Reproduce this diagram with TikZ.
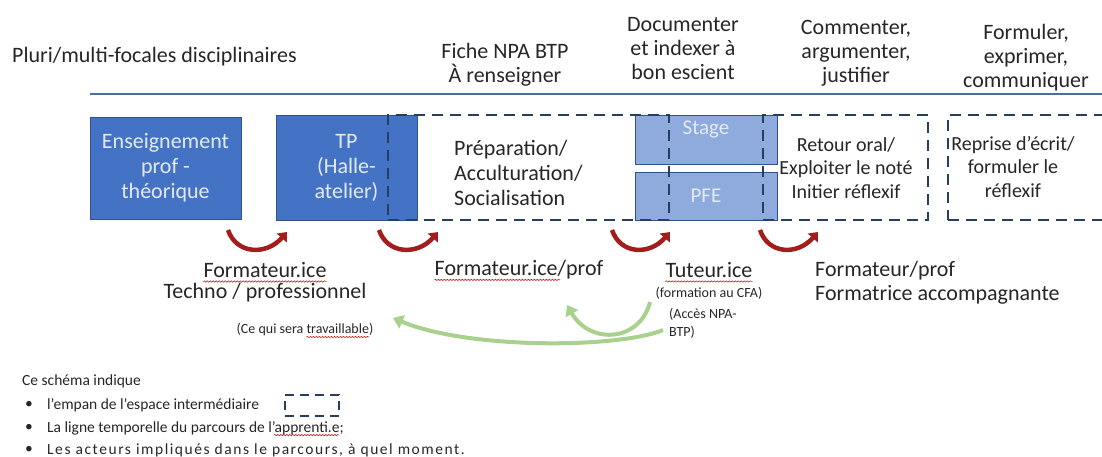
\documentclass[tikz,border=0pt]{standalone}
\usepackage{fontspec}
\setmainfont{Carlito}
\usetikzlibrary{arrows.meta}
\usetikzlibrary{decorations.pathmorphing}

\definecolor{boxblue}{HTML}{4472C4}
\definecolor{boxedge}{HTML}{2F528F}
\definecolor{boxtext}{HTML}{E3EAF6}
\definecolor{stageblue}{HTML}{8FAADC}
\definecolor{spanline}{HTML}{263E62}
\definecolor{lineblue}{HTML}{4A6FA5}
\definecolor{turnred}{HTML}{A31D1D}
\definecolor{backgreen}{HTML}{A9D18E}
\definecolor{ink}{HTML}{262626}

\begin{document}
\begin{tikzpicture}[x=1pt, y=-1pt,
phasebox/.style={rectangle, draw=boxedge, fill=boxblue, text=boxtext, line width=0.8pt, align=center, inner sep=0pt, font=\fontsize{22}{25}\selectfont},
stagebox/.style={rectangle, draw=boxedge, fill=stageblue, text=boxtext, line width=0.8pt, inner sep=0pt, minimum width=142pt, font=\fontsize{21}{22}\selectfont},
span/.style={rectangle, draw=spanline, line width=2.4pt, dash pattern=on 11pt off 7pt, inner sep=0pt},
label/.style={text=ink, align=center, inner sep=0pt, font=\fontsize{22}{24}\selectfont},
inbox/.style={text=ink, align=center, inner sep=0pt, font=\fontsize{20}{23.5}\selectfont},
small/.style={text=ink, align=left, inner sep=0pt, font=\fontsize{14}{18}\selectfont},
legend/.style={text=ink, anchor=west, inner sep=0pt, font=\fontsize{15.5}{18}\selectfont},
turn/.style={draw=turnred, line width=4.5pt, -{Triangle[length=8pt,width=13pt]}},
back/.style={draw=backgreen, line width=4pt, -{Triangle[length=10pt,width=14pt]}},
squiggle/.style={draw=red!85!black, line width=0.5pt, decorate, decoration={snake, segment length=3pt, amplitude=0.7pt}},
]
\useasboundingbox (0,0) rectangle (1102,457);

% top line and what happens above it
\node[label, anchor=west] (pluri) at (12,57) {Pluri/multi-focales disciplinaires};
\coordinate (tl0) at (90,94);
\coordinate (tl1) at (1102,94);
\draw[draw=lineblue, line width=2.2pt] (tl0) -- (tl1);
\node[label] (fiche) at (505,65) {Fiche NPA BTP\\À renseigner};
\node[label] (docu) at (683,49) {Documenter\\et indexer à\\bon escient};
\node[label] (comm) at (856,53) {Commenter,\\argumenter,\\justifier};
\node[label] (form) at (1026,58) {Formuler,\\exprimer,\\communiquer};

% phases
\node[phasebox, minimum width=151pt, minimum height=102pt] (ens) at (165.5,168) {Enseignement\\prof -\\théorique};
\node[phasebox, minimum width=141pt, minimum height=105pt] (tp) at (346.5,167.5) {TP\\(Halle-\\atelier)};
\node[stagebox, minimum height=49pt] (stage) at (706,139.5) {};
\node[text=boxtext, inner sep=0pt, font=\fontsize{21}{22}\selectfont] (stagetxt) at (706,129) {Stage};
\node[stagebox, minimum height=48pt] (pfe) at (706,196) {PFE};

% espace intermediaire
\node[span, minimum width=281pt, minimum height=105pt] (espA) at (528.5,167.5) {};
\node[span, minimum width=165pt, minimum height=105pt] (espB) at (845.5,167.5) {};
\node[span, minimum width=170pt, minimum height=105pt] (espC) at (1033,167.5) {};
\node[label, align=left, font=\fontsize{22}{25}\selectfont, anchor=west] (prep) at (454,173) {Préparation/\\Acculturation/\\Socialisation};
\node[inbox] (retour) at (846,168) {Retour oral/\\Exploiter le noté\\Initier réflexif};
\node[inbox] (reprise) at (1013,167) {Reprise d’écrit/\\formuler le\\réflexif};

% passages
\coordinate (r1a) at (228,230); \coordinate (r1b) at (287,232);
\coordinate (r2a) at (379,230); \coordinate (r2b) at (438,232);
\coordinate (r3a) at (612,230); \coordinate (r3b) at (670,232);
\coordinate (r4a) at (760,230); \coordinate (r4b) at (818,232);
\draw[turn] (r1a) .. controls (236,254) and (266,256) .. (r1b);
\draw[turn] (r2a) .. controls (387,254) and (417,256) .. (r2b);
\draw[turn] (r3a) .. controls (620,254) and (649,256) .. (r3b);
\draw[turn] (r4a) .. controls (768,254) and (797,256) .. (r4b);

% acteurs
\node[label] (fa1) at (265,270) {Formateur.ice};
\node[label] (fa2) at (265,293) {Techno / professionnel};
\node[label] (fb) at (519,270) {Formateur.ice/prof};
\node[label] (tut) at (709,270) {Tuteur.ice};
\node[small, align=center] (cfa) at (709,293) {(formation au CFA)};
\node[label, align=left, anchor=west] (fc) at (815,283) {Formateur/prof\\Formatrice accompagnante};
\draw[squiggle] ([yshift=-4pt]fa1.base west) -- ([yshift=-4pt]fa1.base east);
\draw[squiggle] ([yshift=-4pt]fb.base west) -- ++(126,0);
\draw[squiggle] ([yshift=-4pt]tut.base west) -- ([yshift=-4pt]tut.base east);

% retours
\node[small] (trav) at (305,330) {(Ce qui sera travaillable)};
\node[small, anchor=north west] (acces) at (669,308) {(Accès NPA-\\BTP)};
\draw[squiggle] ([yshift=-3pt,xshift=-67pt]trav.base east) -- ([yshift=-3pt,xshift=-4pt]trav.base east);
\coordinate (g1a) at (663,330); \coordinate (g1b) at (393,318);
\coordinate (g2a) at (650,302); \coordinate (g2b) at (567,305);
\draw[back] (g1a) .. controls (620,348) and (470,350) .. (g1b);
\draw[back] (g2a) .. controls (640,342) and (590,345) .. (g2b);

% legende
\node[legend] (titre) at (22,381) {Ce schéma indique};
\node[legend] (b1) at (25,405) {•};
\node[legend] (l1) at (47,405) {l’empan de l’espace intermédiaire};
\node[span, line width=2pt, dash pattern=on 9pt off 6pt, minimum width=54pt, minimum height=21pt] (ex) at (312,405.5) {};
\node[legend] (b2) at (25,428) {•};
\node[legend] (l2) at (47,428) {La ligne temporelle du parcours de l’apprenti.e;};
\draw[squiggle] ([yshift=-3pt,xshift=-70pt]l2.base east) -- ([yshift=-3pt,xshift=-5pt]l2.base east);
\node[legend] (b3) at (25,450) {•};
\node[legend] (l3) at (47,450) {\addfontfeatures{LetterSpace=10}Les acteurs impliqués dans le parcours, à quel moment.};
\end{tikzpicture}
\end{document}
